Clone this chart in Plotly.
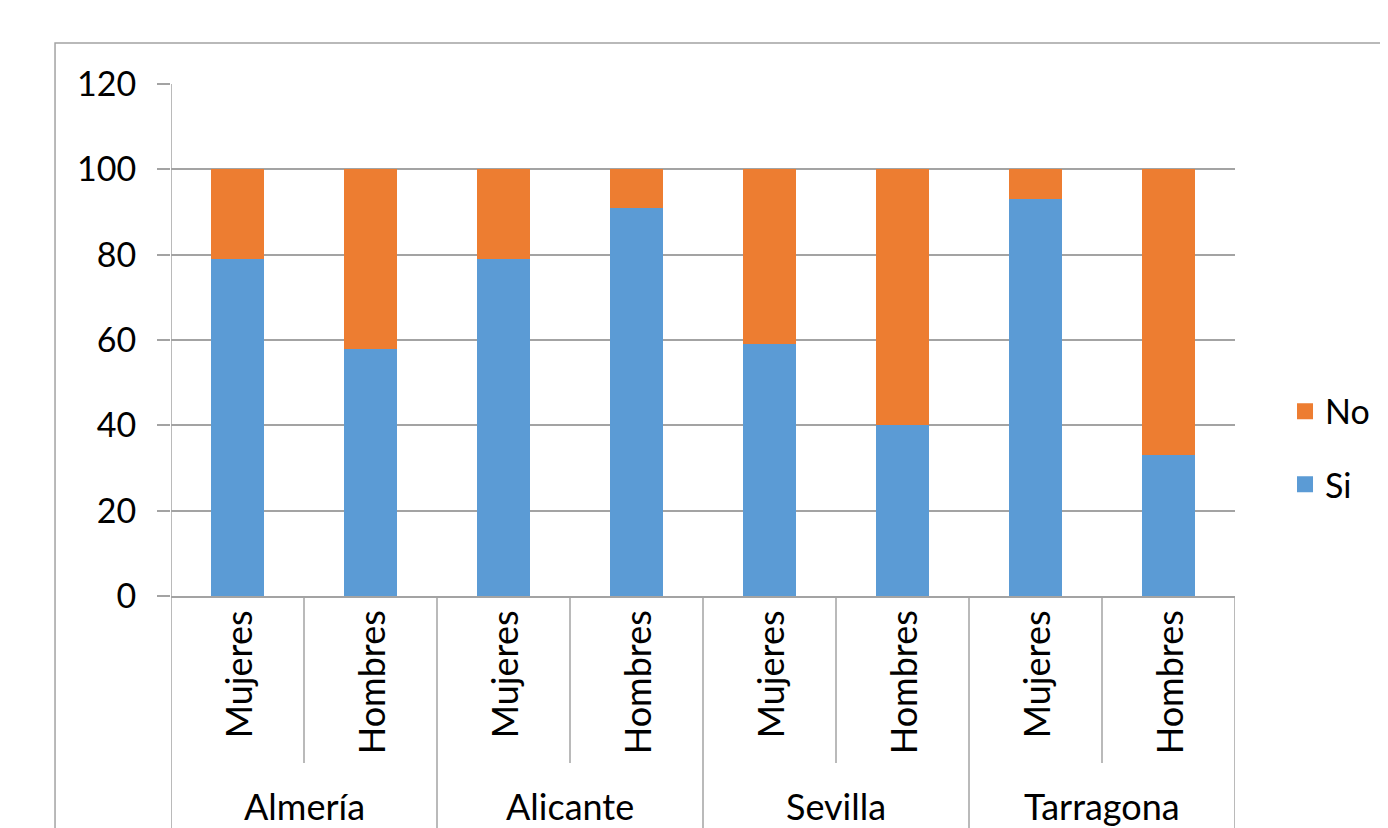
import plotly.graph_objects as go

# Data
regions = ['Almería', 'Alicante', 'Sevilla', 'Tarragona']
genders = ['Mujeres', 'Hombres']
si_values = [79, 58, 79, 91, 59, 40, 93, 33]
no_values = [21, 42, 21, 9, 41, 60, 7, 67]
y_ticks = [0, 20, 40, 60, 80, 100, 120]

blue = '#5b9bd5'
orange = '#ed7d31'
line_grey = '#a3a3a3'
font_name = 'Lato'

# one unique category key per bar
keys = [r + ' ' + g for r in regions for g in genders]

fig = go.Figure()

fig.add_trace(go.Bar(x = keys, y = si_values, name = 'Si', marker_color = blue,
                     marker_line_width = 0, showlegend = False))
fig.add_trace(go.Bar(x = keys, y = no_values, name = 'No', marker_color = orange,
                     marker_line_width = 0, showlegend = False))

# legend entries with bigger square swatches
fig.add_trace(go.Scatter(x = [None], y = [None], mode = 'markers', name = 'No',
                         marker = dict(symbol = 'square', size = 16, color = orange),
                         legendgroup = 'no'))
fig.add_trace(go.Scatter(x = [None], y = [None], mode = 'markers', name = 'Si',
                         marker = dict(symbol = 'square', size = 16, color = blue),
                         legendgroup = 'si'))

# gender labels (rotated) and region labels under the axis
annotations = []
for i, k in enumerate(keys):
    annotations.append(dict(x = k, y = -0.025, xref = 'x', yref = 'paper',
                            text = genders[i % 2], textangle = -90, showarrow = False,
                            xanchor = 'center', yanchor = 'top',
                            font = dict(family = font_name, size = 36, color = '#000000')))
for j, r in enumerate(regions):
    annotations.append(dict(x = 2 * j + 0.5, y = -0.41, xref = 'x', yref = 'paper',
                            text = r, showarrow = False, xanchor = 'center', yanchor = 'middle',
                            font = dict(family = font_name, size = 36, color = '#000000')))

# divider lines of the two-level category axis
shapes = []
for j in range(len(regions)):
    shapes.append(dict(type = 'line', xref = 'x', yref = 'paper', x0 = 2 * j + 0.5, x1 = 2 * j + 0.5,
                       y0 = 0, y1 = -0.326, line = dict(color = line_grey, width = 1.5)))
for j in range(len(regions) + 1):
    top = 1 if j == 0 else 0
    shapes.append(dict(type = 'line', xref = 'x', yref = 'paper', x0 = 2 * j - 0.5, x1 = 2 * j - 0.5,
                       y0 = top, y1 = -0.7, line = dict(color = line_grey, width = 1.5)))

# outer chart border (cut off on the right and bottom)
shapes.append(dict(type = 'rect', xref = 'paper', yref = 'paper', x0 = -0.109, x1 = 1.2,
                   y0 = -0.7, y1 = 1.080, line = dict(color = line_grey, width = 1.5),
                   layer = 'below'))

# page body has an 8px margin, so the margins are shifted by that
fig.update_layout(
    width = 1388,
    height = 828,
    autosize = False,
    margin = dict(l = 163, r = 161, t = 76, b = 240),
    barmode = 'stack',
    bargap = 0.6,
    paper_bgcolor = 'white',
    plot_bgcolor = 'white',
    font = dict(family = font_name, size = 34, color = '#000000'),
    xaxis = dict(showticklabels = False, showgrid = False, ticks = '',
                 showline = True, linecolor = line_grey, linewidth = 1.5,
                 range = [-0.5, 7.5]),
    yaxis = dict(range = [0, 120], tickvals = y_ticks, showgrid = True,
                 gridcolor = line_grey, gridwidth = 1.5, zeroline = False,
                 ticks = 'outside', ticklen = 13, tickcolor = line_grey, tickwidth = 1.5,
                 ticklabelstandoff = 14, showline = False,
                 tickfont = dict(family = font_name, size = 34, color = '#000000')),
    legend = dict(x = 1.047, y = 0.289, xanchor = 'left', yanchor = 'middle',
                  traceorder = 'grouped', tracegroupgap = 26,
                  font = dict(family = font_name, size = 34, color = '#000000'),
                  bgcolor = 'rgba(0,0,0,0)'),
    annotations = annotations,
    shapes = shapes,
)

fig.write_html('out.html')
